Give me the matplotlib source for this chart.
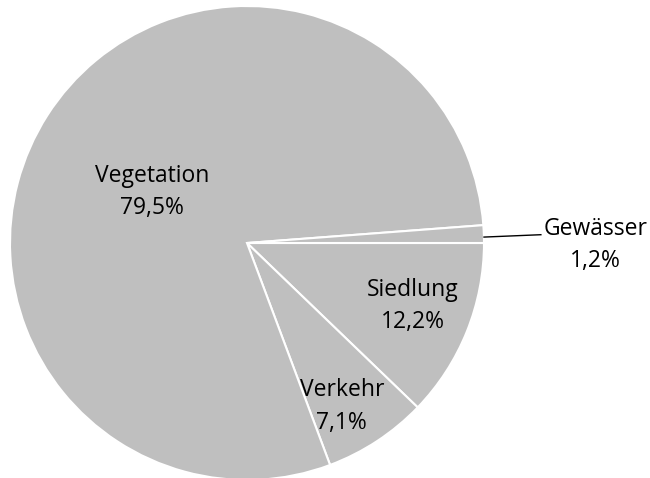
import matplotlib
matplotlib.use("Agg")
import matplotlib.pyplot as plt

plt.rcParams["font.family"] = ["Open Sans", "DejaVu Sans"]

labels = ["Siedlung", "Verkehr", "Vegetation", "Gewässer"]
shares = [12.2, 7.1, 79.5, 1.2]
pct_text = ["12,2%", "7,1%", "79,5%", "1,2%"]

# label positions in pie units (radius 1)
label_pos = [(0.70, -0.265), (0.40, -0.69), (-0.40, 0.215), (1.47, -0.01)]

fig = plt.figure(figsize=(6.5, 4.78), dpi=100)
r_px = 237
cx, cy = 247, 478 - 243
ax = fig.add_axes([(cx - r_px) / 650, (cy - r_px) / 478, 2 * r_px / 650, 2 * r_px / 478])

ax.pie(
    shares,
    startangle=0,
    counterclock=False,
    colors=["#bfbfbf"] * len(shares),
    wedgeprops={"edgecolor": "white", "linewidth": 1.5},
)
ax.set_xlim(-1, 1)
ax.set_ylim(-1, 1)
ax.set_aspect("equal")

for name, pct, (x, y) in zip(labels, pct_text, label_pos):
    ax.text(x, y, f"{name}\n{pct}", ha="center", va="center",
            fontsize=16.5, color="black", linespacing=1.45)

# leader line for Gewässer
ax.plot([1.0, 1.24], [0.025, 0.035], color="black", linewidth=1, clip_on=False)

fig.savefig("out.png", dpi=100)
